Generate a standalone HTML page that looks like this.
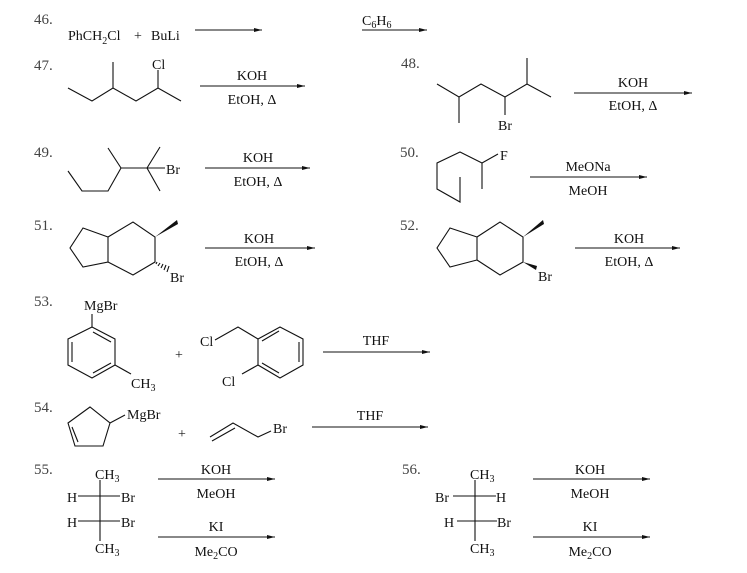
<!DOCTYPE html>
<html><head><meta charset="utf-8"><style>
html,body{margin:0;padding:0;background:#fff;}
svg{display:block;}
text{font-family:"Liberation Serif",serif;font-size:14px;fill:#111;}
.n{fill:#444;font-size:15px;}
.s{font-size:10px;}
line,polyline,polygon.o{stroke:#111;stroke-width:1.1;fill:none;}
</style></head><body>
<svg width="747" height="573" viewBox="0 0 747 573" xmlns="http://www.w3.org/2000/svg">
<defs><marker id="a" markerWidth="8" markerHeight="6" refX="8" refY="3" orient="auto" markerUnits="userSpaceOnUse"><path d="M0,1 L8,3 L0,5 Z" fill="#111"/></marker></defs>
<!-- 46 -->
<text class="n" x="34" y="24">46.</text>
<text x="68" y="40">PhCH<tspan class="s" dy="4">2</tspan><tspan dy="-4">Cl</tspan></text>
<text x="134" y="40">+</text>
<text x="151" y="40">BuLi</text>
<line x1="195" y1="30" x2="262" y2="30" marker-end="url(#a)"/>
<line x1="362" y1="30" x2="427" y2="30" marker-end="url(#a)"/>
<text x="362" y="25">C<tspan class="s" dy="3">6</tspan><tspan dy="-3">H</tspan><tspan class="s" dy="3">6</tspan></text>
<!-- 47 -->
<text class="n" x="34" y="70">47.</text>
<polyline points="68,88 92,101 113,88 136,101 158,88 181,101"/>
<line x1="113" y1="88" x2="113" y2="62"/>
<line x1="158" y1="88" x2="158" y2="70"/>
<text x="152" y="69">Cl</text>
<line x1="200" y1="86" x2="305" y2="86" marker-end="url(#a)"/>
<text x="252" y="80" text-anchor="middle">KOH</text>
<text x="252" y="104" text-anchor="middle">EtOH, Δ</text>
<!-- 48 -->
<text class="n" x="401" y="68">48.</text>
<polyline points="437,84 459,97 481,84 505,97 527,84 551,97"/>
<line x1="459" y1="97" x2="459" y2="123"/>
<line x1="505" y1="97" x2="505" y2="115"/>
<line x1="527" y1="84" x2="527" y2="58"/>
<text x="498" y="130">Br</text>
<line x1="574" y1="93" x2="692" y2="93" marker-end="url(#a)"/>
<text x="633" y="87" text-anchor="middle">KOH</text>
<text x="633" y="110" text-anchor="middle">EtOH, Δ</text>
<!-- 49 -->
<text class="n" x="34" y="157">49.</text>
<polyline points="68,171 82,191 108,191 121,168 108,148"/>
<line x1="121" y1="168" x2="165" y2="168"/>
<line x1="147" y1="168" x2="160" y2="147"/>
<line x1="147" y1="168" x2="160" y2="191"/>
<text x="166" y="174">Br</text>
<line x1="205" y1="168" x2="310" y2="168" marker-end="url(#a)"/>
<text x="258" y="162" text-anchor="middle">KOH</text>
<text x="258" y="186" text-anchor="middle">EtOH, Δ</text>
<!-- 50 -->
<text class="n" x="400" y="157">50.</text>
<polyline points="460,177 460,202 437,189 437,163 460,152 482,163 498,154"/>
<line x1="482" y1="163" x2="482" y2="189"/>
<text x="500" y="160">F</text>
<line x1="530" y1="177" x2="647" y2="177" marker-end="url(#a)"/>
<text x="588" y="171" text-anchor="middle">MeONa</text>
<text x="588" y="195" text-anchor="middle">MeOH</text>
<!-- 51 -->
<text class="n" x="34" y="230">51.</text>
<polygon class="o" points="83,228 70,248 83,267 108,262 108,237"/>
<polyline points="108,237 133,222 155,237 155,262 133,275 108,262"/>
<polygon points="155,237 177,220 178,224" fill="#111"/>
<g stroke="#111" stroke-width="1">
<line x1="157" y1="262" x2="156" y2="264"/><line x1="160" y1="263" x2="158" y2="266"/><line x1="163" y1="264" x2="161" y2="268"/><line x1="166" y1="265" x2="164" y2="270"/><line x1="169" y1="266" x2="167" y2="272"/>
</g>
<text x="170" y="282">Br</text>
<line x1="205" y1="248" x2="315" y2="248" marker-end="url(#a)"/>
<text x="259" y="243" text-anchor="middle">KOH</text>
<text x="259" y="266" text-anchor="middle">EtOH, Δ</text>
<!-- 52 -->
<text class="n" x="400" y="230">52.</text>
<polygon class="o" points="450,228 437,248 450,267 477,260 477,237"/>
<polyline points="477,237 500,222 523,237 523,262 500,275 477,260"/>
<polygon points="523,237 543,220 544,224" fill="#111"/>
<polygon points="523,262 537,266 536,270" fill="#111"/>
<text x="538" y="281">Br</text>
<line x1="575" y1="248" x2="680" y2="248" marker-end="url(#a)"/>
<text x="629" y="243" text-anchor="middle">KOH</text>
<text x="629" y="266" text-anchor="middle">EtOH, Δ</text>
<!-- 53 -->
<text class="n" x="34" y="306">53.</text>
<text x="84" y="310">MgBr</text>
<line x1="92" y1="327" x2="92" y2="314"/>
<polygon class="o" points="92,327 115,339 115,365 92,378 68,365 68,339"/>
<line x1="72" y1="342" x2="72" y2="362"/>
<line x1="93" y1="332" x2="111" y2="342"/>
<line x1="93" y1="373" x2="111" y2="363"/>
<line x1="115" y1="365" x2="131" y2="374"/>
<text x="131" y="388">CH<tspan class="s" dy="3">3</tspan></text>
<text x="175" y="359">+</text>
<text x="200" y="346">Cl</text>
<polyline points="215,340 238,327 258,339"/>
<polygon class="o" points="258,339 280,327 303,339 303,365 280,378 258,365"/>
<line x1="299" y1="342" x2="299" y2="362"/>
<line x1="262" y1="341" x2="279" y2="331"/>
<line x1="262" y1="363" x2="279" y2="373"/>
<line x1="258" y1="365" x2="242" y2="374"/>
<text x="222" y="386">Cl</text>
<line x1="323" y1="352" x2="430" y2="352" marker-end="url(#a)"/>
<text x="376" y="345" text-anchor="middle">THF</text>
<!-- 54 -->
<text class="n" x="34" y="412">54.</text>
<polygon class="o" points="90,407 68,423 75,446 103,446 110,423"/>
<line x1="72" y1="427" x2="78" y2="442"/>
<line x1="110" y1="423" x2="125" y2="415"/>
<text x="127" y="419">MgBr</text>
<text x="178" y="438">+</text>
<polyline points="210,437 233,423 258,437 271,431"/>
<line x1="212" y1="441" x2="235" y2="428"/>
<text x="273" y="433">Br</text>
<line x1="312" y1="427" x2="428" y2="427" marker-end="url(#a)"/>
<text x="370" y="420" text-anchor="middle">THF</text>
<!-- 55 -->
<text class="n" x="34" y="474">55.</text>
<line x1="100" y1="480" x2="100" y2="541"/>
<line x1="78" y1="496" x2="120" y2="496"/>
<line x1="78" y1="521" x2="120" y2="521"/>
<text x="95" y="479">CH<tspan class="s" dy="3">3</tspan></text>
<text x="67" y="502">H</text><text x="121" y="502">Br</text>
<text x="67" y="527">H</text><text x="121" y="527">Br</text>
<text x="95" y="553">CH<tspan class="s" dy="3">3</tspan></text>
<line x1="158" y1="479" x2="275" y2="479" marker-end="url(#a)"/>
<text x="216" y="474" text-anchor="middle">KOH</text>
<text x="216" y="498" text-anchor="middle">MeOH</text>
<line x1="158" y1="537" x2="275" y2="537" marker-end="url(#a)"/>
<text x="216" y="531" text-anchor="middle">KI</text>
<text x="216" y="556" text-anchor="middle">Me<tspan class="s" dy="3">2</tspan><tspan dy="-3">CO</tspan></text>
<!-- 56 -->
<text class="n" x="402" y="474">56.</text>
<line x1="475" y1="480" x2="475" y2="541"/>
<line x1="453" y1="496" x2="496" y2="496"/>
<line x1="457" y1="521" x2="497" y2="521"/>
<text x="470" y="479">CH<tspan class="s" dy="3">3</tspan></text>
<text x="435" y="502">Br</text><text x="496" y="502">H</text>
<text x="444" y="527">H</text><text x="497" y="527">Br</text>
<text x="470" y="553">CH<tspan class="s" dy="3">3</tspan></text>
<line x1="533" y1="479" x2="650" y2="479" marker-end="url(#a)"/>
<text x="590" y="474" text-anchor="middle">KOH</text>
<text x="590" y="498" text-anchor="middle">MeOH</text>
<line x1="533" y1="537" x2="650" y2="537" marker-end="url(#a)"/>
<text x="590" y="531" text-anchor="middle">KI</text>
<text x="590" y="556" text-anchor="middle">Me<tspan class="s" dy="3">2</tspan><tspan dy="-3">CO</tspan></text>
</svg>
</body></html>
